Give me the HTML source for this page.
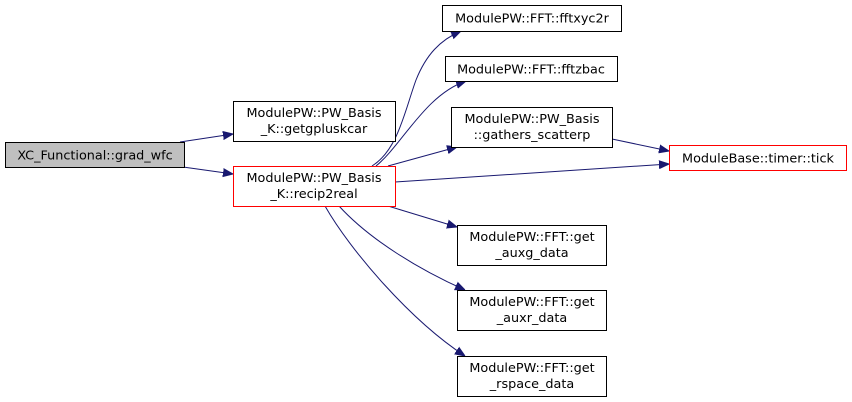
<!DOCTYPE html>
<html><head><meta charset="utf-8"><style>
html,body{margin:0;padding:0;background:#fff;}
svg{display:block;}
text{font-family:"DejaVu Sans","Liberation Sans",sans-serif;font-size:12.8px;fill:#000;text-anchor:middle;}
.b{fill:#fff;stroke:#000;stroke-width:1;}
.r{fill:#fff;stroke:#ff0000;stroke-width:1;}
.e{fill:none;stroke:#191970;stroke-width:1;}
</style></head><body>
<svg width="852" height="402" viewBox="0 0 852 402" xmlns="http://www.w3.org/2000/svg">
<defs><marker id="a" viewBox="0 0 10 10" refX="10" refY="5" markerWidth="10" markerHeight="10" markerUnits="userSpaceOnUse" orient="auto"><path d="M0,1 L10,5 L0,9 z" fill="#191970" stroke="#191970"/></marker></defs>

<path class="e" d="M180,142 L233,134" marker-end="url(#a)"/>
<path class="e" d="M183,167 L233,174" marker-end="url(#a)"/>
<path class="e" d="M372,166 C398,150 405,110 416,80 C426,55 440,40 461,31" marker-end="url(#a)"/>
<path class="e" d="M376,166 C402,145 425,95 466,81" marker-end="url(#a)"/>
<path class="e" d="M388,166 L457,147" marker-end="url(#a)"/>
<path class="e" d="M395,182 L669,164" marker-end="url(#a)"/>
<path class="e" d="M612,139 L669,151" marker-end="url(#a)"/>
<path class="e" d="M388,206 L457,227" marker-end="url(#a)"/>
<path class="e" d="M339,206 C370,240 420,270 465,290" marker-end="url(#a)"/>
<path class="e" d="M325,206 C350,250 410,320 465,356" marker-end="url(#a)"/>

<rect x="5.5" y="142.5" width="179" height="25" fill="#bfbfbf" stroke="#000"/>
<text x="95" y="159.5">XC_Functional::grad_wfc</text>

<rect class="b" x="233.5" y="101.5" width="162" height="40"/>
<text x="314" y="117">ModulePW::PW_Basis</text>
<text x="314" y="133">_K::getgpluskcar</text>

<rect class="r" x="233.5" y="166.5" width="162" height="40"/>
<text x="314" y="182">ModulePW::PW_Basis</text>
<text x="314" y="198">_K::recip2real</text>

<rect class="b" x="442.5" y="5.5" width="179" height="26"/>
<text x="532" y="22.5">ModulePW::FFT::fftxyc2r</text>

<rect class="b" x="445.5" y="56.5" width="172" height="25"/>
<text x="531" y="73.5">ModulePW::FFT::fftzbac</text>

<rect class="b" x="451.5" y="107.5" width="161" height="40"/>
<text x="532" y="123">ModulePW::PW_Basis</text>
<text x="532" y="139">::gathers_scatterp</text>

<rect class="r" x="669.5" y="145.5" width="177" height="25"/>
<text x="758" y="162.5">ModuleBase::timer::tick</text>

<rect class="b" x="457.5" y="225.5" width="149" height="40"/>
<text x="532" y="241">ModulePW::FFT::get</text>
<text x="532" y="257">_auxg_data</text>

<rect class="b" x="457.5" y="290.5" width="149" height="40"/>
<text x="532" y="306">ModulePW::FFT::get</text>
<text x="532" y="322">_auxr_data</text>

<rect class="b" x="457.5" y="356.5" width="149" height="40"/>
<text x="532" y="372">ModulePW::FFT::get</text>
<text x="532" y="388">_rspace_data</text>
</svg>
</body></html>
